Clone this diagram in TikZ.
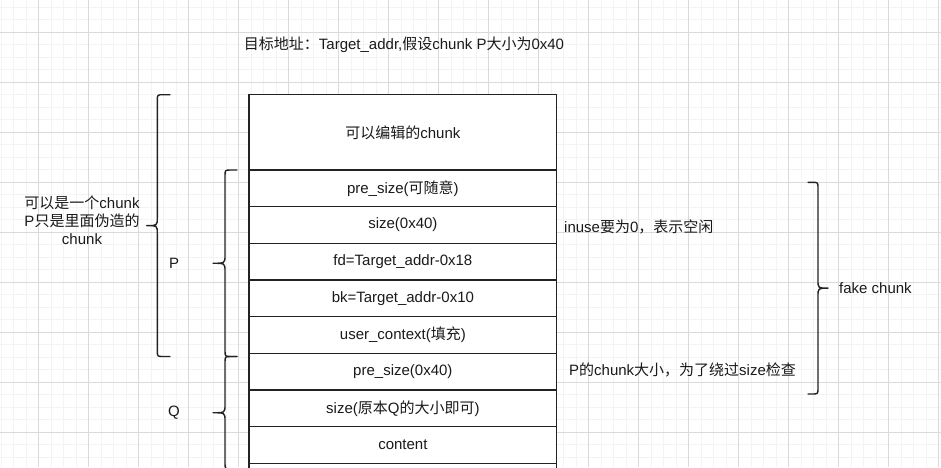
\documentclass[tikz,border=0pt]{standalone}
\usepackage{fontspec}
\setmainfont{Liberation Sans}
\newfontfamily\cjk{Noto Sans CJK SC}
\newcommand{\zh}[1]{{\cjk #1}}
\definecolor{gridminor}{HTML}{F3F3F3}
\definecolor{gridmajor}{HTML}{DADADA}
\definecolor{ink}{HTML}{1A1A1A}
\definecolor{strokec}{HTML}{222222}
\tikzset{
  cell/.style={draw=strokec, line width=1.4pt, fill=white, minimum width=307.7pt, inner sep=0pt, outer sep=0pt, text=ink, font=\fontsize{15}{18}\selectfont},
  lbl/.style={inner sep=0pt, text=ink, font=\fontsize{15}{18}\selectfont},
  brcstyle/.style={draw=strokec, line width=1.4pt, line join=round, line cap=round},
}
% #1 end x, #2 spine x, #3 tip x, #4 top y, #5 bottom y, #6 corner x
\newcommand{\brc}[6]{%
  \pgfmathsetmacro\ym{(#4+#5)/2}%
  \draw[brcstyle] (#1,#4) -- (#6,#4) .. controls (#2,#4) .. (#2,#4+6)
    -- (#2,\ym-8) .. controls (#2,\ym) .. (#3,\ym)
    .. controls (#2,\ym) .. (#2,\ym+8)
    -- (#2,#5-6) .. controls (#2,#5) .. (#6,#5) -- (#1,#5);}
\begin{document}
\begin{tikzpicture}[x=1pt,y=-1pt]
\useasboundingbox (0,0) rectangle (941,467);
\clip (0,0) rectangle (941,467);
\fill[white] (0,0) rectangle (941,467);
% grid
\foreach \i in {0,...,75} {\draw[gridminor, line width=0.8pt] ({1.2+12.5*\i},0) -- ({1.2+12.5*\i},467);}
\foreach \i in {0,...,37} {\draw[gridminor, line width=0.8pt] (0,{7.3+12.5*\i}) -- (941,{7.3+12.5*\i});}
\foreach \i in {0,...,18} {\draw[gridmajor, line width=0.8pt] ({38.7+50*\i},0) -- ({38.7+50*\i},467);}
\foreach \i in {0,...,9} {\draw[gridmajor, line width=0.8pt] (0,{32.3+50*\i}) -- (941,{32.3+50*\i});}
% title
\node[lbl] (title) at (404,45) {\zh{目标地址：}Target\_addr,\zh{假设}chunk P\zh{大小为}0x40};
% stack of cells
\node[cell, minimum height=75.3pt] (r0) at (402.85,132.35) {\zh{可以编辑的}chunk};
\node[cell, minimum height=36.66pt, anchor=north] (r1) at (r0.south) {pre\_size(\zh{可随意})};
\node[cell, minimum height=36.66pt, anchor=north] (r2) at (r1.south) {size(0x40)};
\node[cell, minimum height=36.66pt, anchor=north] (r3) at (r2.south) {fd=Target\_addr-0x18};
\node[cell, minimum height=36.66pt, anchor=north] (r4) at (r3.south) {bk=Target\_addr-0x10};
\node[cell, minimum height=36.66pt, anchor=north] (r5) at (r4.south) {user\_context(\zh{填充})};
\node[cell, minimum height=36.66pt, anchor=north] (r6) at (r5.south) {pre\_size(0x40)};
\node[cell, minimum height=36.66pt, anchor=north] (r7) at (r6.south) {size(\zh{原本}Q\zh{的大小即可})};
\node[cell, minimum height=36.66pt, anchor=north] (r8) at (r7.south) {content};
\node[cell, minimum height=36.66pt, anchor=north] (r9) at (r8.south) {};
% braces
\brc{170}{157.3}{146.7}{94.7}{356.5}{163.3}
\brc{237}{225}{213}{170}{356.5}{231}
\brc{237}{225}{213}{356.5}{469}{231}
\brc{808}{818}{828}{182.3}{394}{812}
% labels
\node[lbl, align=center] (lefttxt) at (82,220) {\zh{可以是一个}chunk\\P\zh{只是里面伪造的}\\chunk};
\node[lbl] (plbl) at (174,263) {P};
\node[lbl] (qlbl) at (174,412.7) {Q};
\node[lbl, anchor=west] (inuse) at (564,226.7) {inuse\zh{要为}0\zh{，表示空闲}};
\node[lbl, anchor=west] (psize) at (569,370) {P\zh{的}chunk\zh{大小，为了绕过}size\zh{检查}};
\node[lbl, anchor=west] (fake) at (839,288) {fake chunk};
\end{tikzpicture}
\end{document}
